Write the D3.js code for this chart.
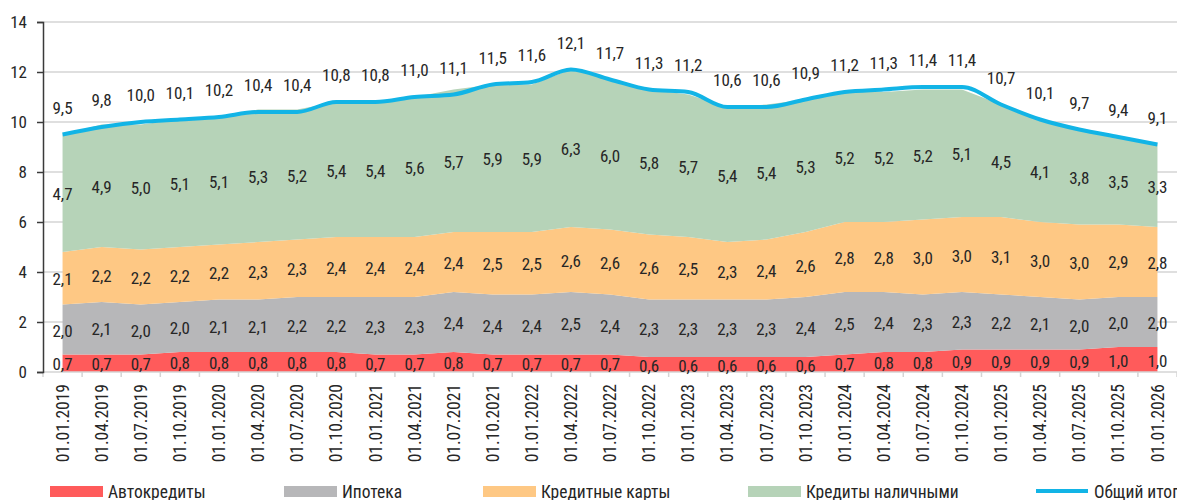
<!DOCTYPE html>
<html><head><meta charset="utf-8">
<script src="https://cdn.jsdelivr.net/npm/d3@7"></script>
<style>
html,body{margin:0;padding:0;background:#fff;}
svg text{font-family:"Liberation Sans Narrow","Roboto Condensed","Liberation Sans",sans-serif;fill:#262626;}
</style></head>
<body><svg id="c" width="1177" height="500"></svg>
<script>
const dates = ["01.01.2019","01.04.2019","01.07.2019","01.10.2019","01.01.2020","01.04.2020","01.07.2020","01.10.2020","01.01.2021","01.04.2021","01.07.2021","01.10.2021","01.01.2022","01.04.2022","01.07.2022","01.10.2022","01.01.2023","01.04.2023","01.07.2023","01.10.2023","01.01.2024","01.04.2024","01.07.2024","01.10.2024","01.01.2025","01.04.2025","01.07.2025","01.10.2025","01.01.2026"];
const autoLoans = [0.7,0.7,0.7,0.8,0.8,0.8,0.8,0.8,0.7,0.7,0.8,0.7,0.7,0.7,0.7,0.6,0.6,0.6,0.6,0.6,0.7,0.8,0.8,0.9,0.9,0.9,0.9,1.0,1.0];
const mortgage = [2.0,2.1,2.0,2.0,2.1,2.1,2.2,2.2,2.3,2.3,2.4,2.4,2.4,2.5,2.4,2.3,2.3,2.3,2.3,2.4,2.5,2.4,2.3,2.3,2.2,2.1,2.0,2.0,2.0];
const cards = [2.1,2.2,2.2,2.2,2.2,2.3,2.3,2.4,2.4,2.4,2.4,2.5,2.5,2.6,2.6,2.6,2.5,2.3,2.4,2.6,2.8,2.8,3.0,3.0,3.1,3.0,3.0,2.9,2.8];
const cash = [4.7,4.9,5.0,5.1,5.1,5.3,5.2,5.4,5.4,5.6,5.7,5.9,5.9,6.3,6.0,5.8,5.7,5.4,5.4,5.3,5.2,5.2,5.2,5.1,4.5,4.1,3.8,3.5,3.3];
const total = [9.5,9.8,10.0,10.1,10.2,10.4,10.4,10.8,10.8,11.0,11.1,11.5,11.6,12.1,11.7,11.3,11.2,10.6,10.6,10.9,11.2,11.3,11.4,11.4,10.7,10.1,9.7,9.4,9.1];
const yTicks = [0,2,4,6,8,10,12,14];
const seriesNames = ["Автокредиты","Ипотека","Кредитные карты","Кредиты наличными"];
const totalName = "Общий итог";
const colors = ["#FF5B5B","#B7B7B9","#FEC884","#B6D3B8"];
const lineColor = "#12B4E6";

const svg = d3.select("#c");
const x = d3.scaleBand().domain(dates).range([43,1177]).padding(0);
const y = d3.scaleLinear().domain([0,14]).range([372,22]);
const cx = d => x(d) + x.bandwidth()/2;

const fmt = v => d3.format(".1f")(v).replace(".", ",");

// grid
svg.append("g").selectAll("line").data(yTicks.filter(t=>t>0)).join("line")
  .attr("x1",43).attr("x2",1177).attr("y1",d=>y(d)).attr("y2",d=>y(d))
  .attr("stroke","#d4d4d4").attr("stroke-width",1.5);

// stacked data
const rows = dates.map((d,i)=>({date:d, s0:autoLoans[i], s1:mortgage[i], s2:cards[i], s3:cash[i]}));
const stack = d3.stack().keys(["s0","s1","s2","s3"]);
const layers = stack(rows);
const area = d3.area().x(d=>cx(d.data.date)).y0(d=>y(d[0])).y1(d=>y(d[1]));
svg.append("g").selectAll("path").data(layers).join("path")
  .attr("d",area).attr("fill",(d,i)=>colors[i]);

// x axis
const xAxisG = svg.append("g").attr("transform","translate(0,372)");
xAxisG.append("line").attr("x1",43).attr("x2",1177).attr("stroke","#d4d4d4").attr("stroke-width",1.5);
const bounds = dates.map(d=>x(d)).concat([x(dates[dates.length-1])+x.bandwidth()]);
xAxisG.selectAll("line.tk").data(bounds).join("line").attr("class","tk")
  .attr("x1",d=>d).attr("x2",d=>d).attr("y1",0).attr("y2",5)
  .attr("stroke","#d4d4d4").attr("stroke-width",1.5);
xAxisG.selectAll("text").data(dates).join("text")
  .attr("transform",d=>`translate(${cx(d)},12) rotate(-90)`)
  .attr("text-anchor","end").attr("dy","0.35em")
  .style("font-size","17.5px").text(d=>d);

// y axis
const yAxis = d3.axisLeft(y).tickValues(yTicks).tickSize(6).tickPadding(10).tickFormat(d=>d);
const yg = svg.append("g").attr("transform","translate(43,0)").call(yAxis);
yg.select(".domain").attr("stroke","#3a3a3a").attr("stroke-width",1.5);
yg.selectAll(".tick line").attr("stroke","#3a3a3a").attr("stroke-width",1.5);
yg.selectAll(".tick text").style("font-size","17px").attr("fill","#262626").attr("font-family",null);

// total line
const line = d3.line().x((d,i)=>cx(dates[i])).y(d=>y(d)).curve(d3.curveMonotoneX);
svg.append("path").datum(total).attr("d",line).attr("fill","none")
  .attr("stroke",lineColor).attr("stroke-width",4).attr("stroke-linejoin","round");

// segment labels
const lab = svg.append("g").style("font-size","17px").attr("text-anchor","middle");
layers.forEach(L=>{
  L.forEach(d=>{
    lab.append("text").attr("x",cx(d.data.date)).attr("y",y((d[0]+d[1])/2)+7)
      .text(fmt(d[1]-d[0]));
  });
});
total.forEach((v,i)=>{
  lab.append("text").attr("x",cx(dates[i])).attr("y",y(v)-21).text(fmt(v));
});

// legend
const legX = [50,284,483,748];
const lg = svg.append("g");
seriesNames.forEach((n,i)=>{
  lg.append("rect").attr("x",legX[i]).attr("y",486).attr("width",53).attr("height",11).attr("fill",colors[i]);
  lg.append("text").attr("x",legX[i]+58).attr("y",498).style("font-size","17.5px").text(n);
});
lg.append("line").attr("x1",1036).attr("x2",1088).attr("y1",491).attr("y2",491).attr("stroke",lineColor).attr("stroke-width",4);
lg.append("text").attr("x",1094).attr("y",498).style("font-size","17.5px").text(totalName);
</script></body></html>
